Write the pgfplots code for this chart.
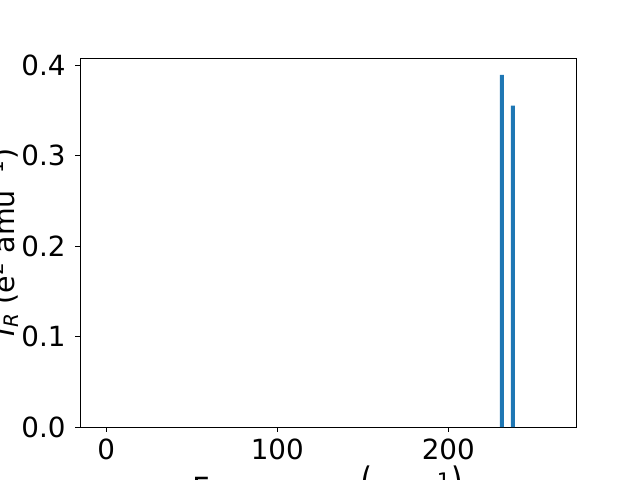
\documentclass[border=0pt]{standalone}
\usepackage{graphicx}
\usepackage{pgfplots}
\pgfplotsset{compat=1.18}
\usepackage{fontspec}
\setmainfont{DejaVu Sans}
\definecolor{mplblue}{HTML}{1F77B4}
\newcommand{\bigparen}[1]{\scalebox{1}[1.45]{#1}}
\begin{document}
\fontsize{20}{24}\selectfont
\begin{tikzpicture}
\clip (-57.6pt,-38.16pt) rectangle (403.2pt,307.44pt);
\path[use as bounding box] (-57.6pt,-38.16pt) rectangle (403.2pt,307.44pt);
\begin{axis}[
  at={(0pt,0pt)}, anchor=south west,
  scale only axis, width=357.12pt, height=265.68pt,
  xmin=-15.4, xmax=274.7, ymin=0, ymax=0.4077,
  xtick={0,100,200}, ytick={0,0.1,0.2,0.3,0.4},
  tick align=outside, tick pos=left,
  major tick length=3.5pt,
  tick style={black, line width=0.6pt},
  axis line style={line width=0.6pt},
  /pgf/number format/assume math mode=true,
  yticklabel style={/pgf/number format/fixed,/pgf/number format/fixed zerofill,/pgf/number format/precision=1},
  xticklabel style={yshift=1.5pt},
  scaled y ticks=false,
  ticklabel style={font=\fontsize{20}{24}\selectfont},
  label style={font=\fontsize{22}{26}\selectfont},
  xlabel={Frequency \bigparen{(}cm\textsuperscript{−1}\bigparen{)}},
  ylabel={\textit{I}\textsubscript{\textit{R}} (e\textsuperscript{2} amu\textsuperscript{−1})},
  xlabel style={at={([yshift=-52pt]axis description cs:0.5,0)}, anchor=base},
  ylabel style={at={([xshift=-47.5pt]axis description cs:0,0.5)}, anchor=base, font=\fontsize{20.5}{24}\selectfont},
]
\addplot[ybar, bar width=2.34, fill=mplblue, draw=none] coordinates {(231.4,0.389) (237.8,0.355)};
\end{axis}
\end{tikzpicture}
\end{document}
